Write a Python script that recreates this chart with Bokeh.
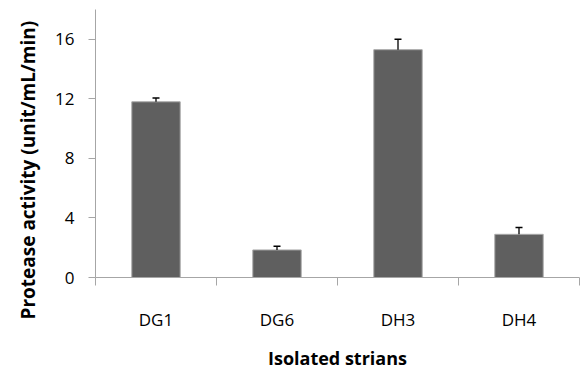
from bokeh.plotting import figure
from bokeh.models import (ColumnDataSource, Range1d, FixedTicker, Whisker,
                          TeeHead, Title)
from bokeh.embed import file_html
from bokeh.resources import INLINE

# ---- data ----
strains = ["DG1", "DG6", "DH3", "DH4"]
activity = [11.8, 1.85, 15.3, 2.9]
error = [0.25, 0.25, 0.7, 0.45]
y_ticks = [0, 4, 8, 12, 16]
y_max = 18
x_title = "Isolated strians"
y_title = "Protease activity  (unit/mL/min)"

FONT = "Open Sans"
AXIS_GREY = "#a6a6a6"

n = len(strains)
centers = [i + 0.5 for i in range(n)]          # category slot centres
edges = list(range(n + 1))                     # category slot boundaries
upper = [a + e for a, e in zip(activity, error)]
src = ColumnDataSource(dict(x=centers, strain=strains, activity=activity, upper=upper))

p = figure(width=580, height=372, x_range=Range1d(0, n), y_range=Range1d(0, y_max),
           output_backend="svg", toolbar_location=None,
           min_border_left=94, min_border_right=1, min_border_top=9,
           min_border_bottom=95)
p.outline_line_color = None
p.grid.visible = False
p.background_fill_color = "white"
p.border_fill_color = "white"

p.vbar(x="x", top="activity", width=0.4, source=src,
       fill_color="#5f5f5f", line_color="#a8a8a8", line_width=1)

w = Whisker(base="x", upper="upper", lower="activity", source=src,
            line_color="black", line_width=1.3,
            upper_head=TeeHead(size=7, line_color="black", line_width=1.5),
            lower_head=None, level="overlay")
p.add_layout(w)

# y axis
ya = p.yaxis[0]
ya.ticker = FixedTicker(ticks=y_ticks)
ya.axis_line_color = AXIS_GREY
ya.major_tick_line_color = AXIS_GREY
ya.major_tick_out = 7
ya.major_tick_in = 0
ya.minor_tick_line_color = None
ya.major_label_text_font = FONT
ya.major_label_text_font_size = "17px"
ya.major_label_text_color = "black"
ya.major_label_standoff = 14

# x axis: labels at slot centres, minor ticks at slot boundaries
xa = p.xaxis[0]
xa.ticker = FixedTicker(ticks=centers, minor_ticks=edges)
xa.major_label_overrides = {c: s for c, s in zip(centers, strains)}
xa.axis_line_color = AXIS_GREY
xa.major_tick_line_color = None
xa.major_tick_out = 0
xa.major_tick_in = 0
xa.minor_tick_line_color = AXIS_GREY
xa.minor_tick_out = 8
xa.minor_tick_in = 0
xa.major_label_standoff = 22
xa.major_label_text_font = FONT
xa.major_label_text_font_size = "17px"
xa.major_label_text_color = "black"
xa.axis_label = x_title
xa.axis_label_text_font = FONT
xa.axis_label_text_font_style = "bold"
xa.axis_label_text_font_size = "18px"
xa.axis_label_text_color = "black"
xa.axis_label_standoff = 12

# y title as a side title (allows shifting along the axis)
yt = Title(text=y_title, align="left", offset=-42, standoff=24,
           text_font=FONT, text_font_style="bold", text_font_size="19px",
           text_color="black")
p.add_layout(yt, "left")

open("out.html", "w").write(file_html(p, INLINE))
